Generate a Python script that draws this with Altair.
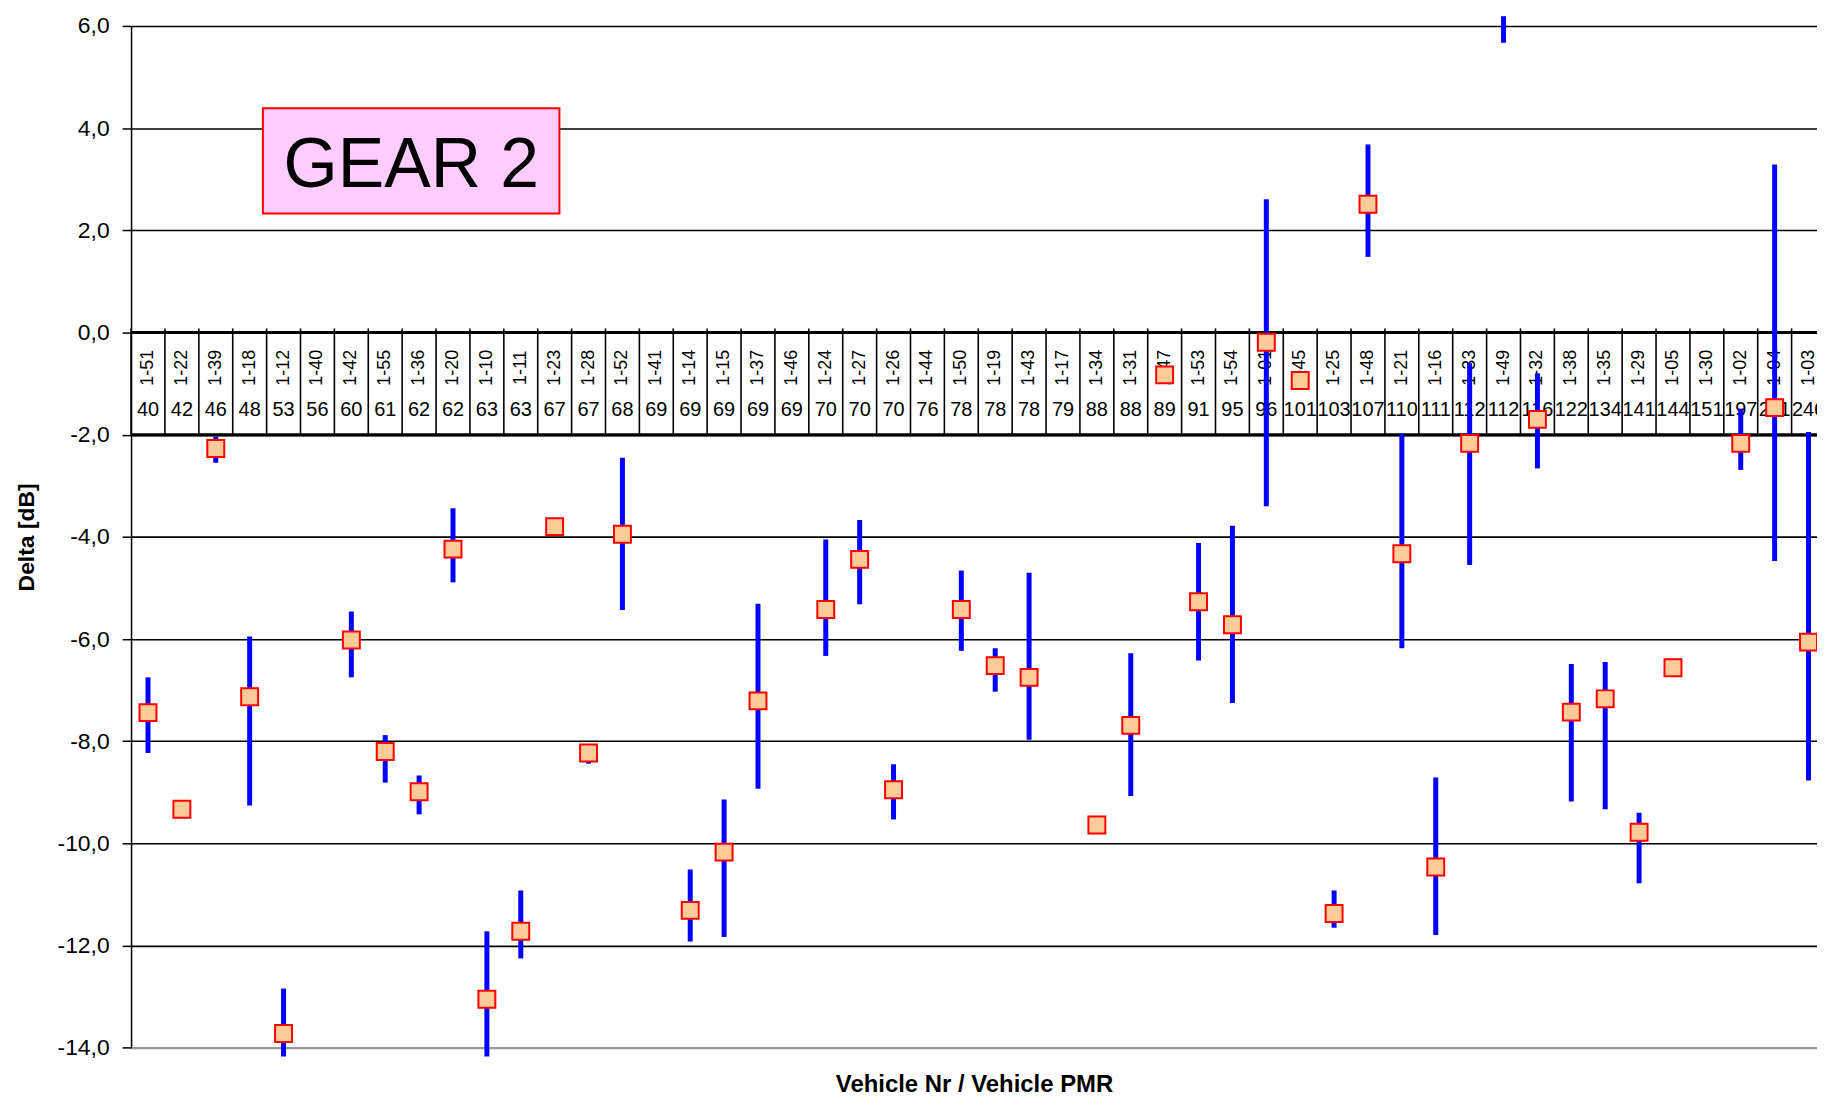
import altair as alt
import pandas as pd

FONT = "Liberation Sans"

# ---- data ----
names = ["1-51", "1-22", "1-39", "1-18", "1-12", "1-40", "1-42", "1-55", "1-36", "1-20",
         "1-10", "1-11", "1-23", "1-28", "1-52", "1-41", "1-14", "1-15", "1-37", "1-46",
         "1-24", "1-27", "1-26", "1-44", "1-50", "1-19", "1-43", "1-17", "1-34", "1-31",
         "1-47", "1-53", "1-54", "1-01", "1-45", "1-25", "1-48", "1-21", "1-16", "1-33",
         "1-49", "1-32", "1-38", "1-35", "1-29", "1-05", "1-30", "1-02", "1-04", "1-03"]
pmr = [40, 42, 46, 48, 53, 56, 60, 61, 62, 62,
       63, 63, 67, 67, 68, 69, 69, 69, 69, 69,
       70, 70, 70, 76, 78, 78, 78, 79, 88, 88,
       89, 91, 95, 96, 101, 103, 107, 110, 111, 112,
       112, 116, 122, 134, 141, 144, 151, 197, 211, 246]
mean = [-7.44, -9.33, -2.27, -7.13, -13.72, None, -6.02, -8.20, -8.99, -4.24,
        -13.05, -11.72, -3.80, -8.23, -3.95, None, -11.31, -10.17, -7.21, None,
        -5.42, -4.44, -8.95, None, -5.42, -6.52, -6.75, None, -9.64, -7.69,
        -0.83, -5.27, -5.72, -0.19, -0.94, -11.37, 2.51, -4.33, -10.46, -2.17,
        None, -1.70, -7.43, -7.17, -9.78, -6.56, None, -2.17, -1.47, -6.06]
hi = [-6.75, None, -2.04, -5.95, -12.84, None, -5.46, -7.88, -8.67, -3.44,
      -11.72, -10.92, None, -8.20, -2.45, None, -10.51, -9.14, -5.31, None,
      -4.05, -3.67, -8.45, None, -4.66, -6.18, -4.70, None, None, -6.28,
      None, -4.12, -3.78, 2.61, None, -10.92, 3.68, -1.98, -8.71, -0.60,
      6.19, -0.80, -6.49, -6.45, -9.40, None, None, -1.49, 3.29, -1.95]
lo = [-8.23, None, -2.55, -9.26, -14.17, None, -6.75, -8.81, -9.43, -4.89,
      -14.17, -12.25, None, -8.44, -5.43, None, -11.92, -11.83, -8.93, None,
      -6.33, -5.32, -9.53, None, -6.23, -7.03, -7.97, None, None, -9.07,
      None, -6.42, -7.25, -3.40, None, -11.65, 1.48, -6.18, -11.79, -4.55,
      5.67, -2.66, -9.18, -9.33, -10.78, None, None, -2.69, -4.47, -8.77]
yticks = [-14, -12, -10, -8, -6, -4, -2, 0, 2, 4, 6]
table_rows = [0, -2]
gear_label = ["GEAR 2"]

# ---- tables built from the arrays ----
n = len(names)
df = pd.DataFrame({"i": list(range(1, n + 1)), "name": names,
                   "pmr": [str(p) for p in pmr], "mean": mean, "hi": hi, "lo": lo})
bars_df = df.dropna(subset=["hi", "lo"])
pts_df = df.dropna(subset=["mean"])
bounds_df = pd.DataFrame({"b": [k + 0.5 for k in range(n + 1)]})
rows_df = pd.DataFrame({"y": table_rows, "x0": [0.5] * len(table_rows),
                        "x1": [n + 0.5] * len(table_rows)})
gear_df = pd.DataFrame({"label": gear_label})

W = 1693.4
H = 1026.4

xs = alt.Scale(domain=[0.5, 50.25], nice=False, zero=False)
ys = alt.Scale(domain=[-14, 6], nice=False, zero=False)

axis_x = alt.Axis(title="Vehicle Nr / Vehicle PMR", labels=False, ticks=False, grid=False,
                  domainColor="#999999", domainWidth=2, titleFont=FONT, titleFontSize=24,
                  titleFontWeight="bold", titleColor="black", titlePadding=25)
axis_y = alt.Axis(values=yticks, labelExpr="datum.value + ',0'", title="Delta [dB]",
                  titleFont=FONT, titleFontSize=23, titleFontWeight="bold", titleColor="black",
                  titleAngle=-90, titleX=-98, titleY=H / 2, titleBaseline="alphabetic",
                  titleAlign="center", labelFont=FONT, labelFontSize=23, labelColor="black",
                  labelPadding=13, tickSize=9, tickColor="black", tickWidth=1.5,
                  domainColor="black", domainWidth=1.5, grid=True,
                  gridColor={"condition": {"test": "datum.value === -14", "value": "#999999"},
                             "value": "#000000"},
                  gridWidth=1.6, gridOpacity=1)

rows = alt.Chart(rows_df).mark_rule(color="black", strokeWidth=3).encode(
    x=alt.X("x0:Q", scale=xs, axis=axis_x),
    x2="x1",
    y=alt.Y("y:Q", scale=ys, axis=axis_y),
)

vlines = alt.Chart(bounds_df).mark_rule(color="black", strokeWidth=1.6).encode(
    x=alt.X("b:Q", scale=xs, axis=axis_x),
    y=alt.Y(datum=0.08, scale=ys, axis=axis_y),
    y2=alt.Y2(datum=-2),
)

name_txt = alt.Chart(df).mark_text(angle=270, font=FONT, fontSize=18, color="black",
                                   align="center", baseline="middle").encode(
    x=alt.X("i:Q", scale=xs, axis=axis_x),
    y=alt.Y(datum=-0.69, scale=ys, axis=axis_y),
    text="name:N",
)

pmr_txt = alt.Chart(df).mark_text(font=FONT, fontSize=20, color="black",
                                  align="center", baseline="middle").encode(
    x=alt.X("i:Q", scale=xs, axis=axis_x),
    y=alt.Y(datum=-1.52, scale=ys, axis=axis_y),
    text="pmr:N",
)

bars = alt.Chart(bars_df).mark_rule(color="#0000FF", strokeWidth=5).encode(
    x=alt.X("i:Q", scale=xs, axis=axis_x),
    y=alt.Y("hi:Q", scale=ys, axis=axis_y),
    y2="lo",
)

pts = alt.Chart(pts_df).mark_point(shape="square", filled=True, size=289, fill="#FFCC99",
                                   stroke="#FF0000", strokeWidth=2, opacity=1).encode(
    x=alt.X("i:Q", scale=xs, axis=axis_x),
    y=alt.Y("mean:Q", scale=ys, axis=axis_y),
)

gear_box = alt.Chart(gear_df).mark_rect(fill="#FFCCFF", stroke="#FF0000", strokeWidth=2).encode(
    x=alt.X(datum=4.39, scale=xs, axis=axis_x),
    x2=alt.X2(datum=13.14),
    y=alt.Y(datum=4.39, scale=ys, axis=axis_y),
    y2=alt.Y2(datum=2.33),
)

gear_txt = alt.Chart(gear_df).mark_text(font=FONT, fontSize=70, color="black",
                                        align="center", baseline="alphabetic").encode(
    x=alt.X(datum=8.77, scale=xs, axis=axis_x),
    y=alt.Y(datum=2.84, scale=ys, axis=axis_y),
    text="label:N",
)

chart = alt.layer(rows, vlines, name_txt, pmr_txt, bars, pts, gear_box, gear_txt).properties(
    width=W, height=H,
    autosize=alt.AutoSizeParams(type="none"),
    padding={"left": 123.6, "top": 15.6, "right": 0, "bottom": 46},
    background="white",
).configure_view(stroke=None)

chart.save("out.html", embed_options={"renderer": "svg", "actions": False})
